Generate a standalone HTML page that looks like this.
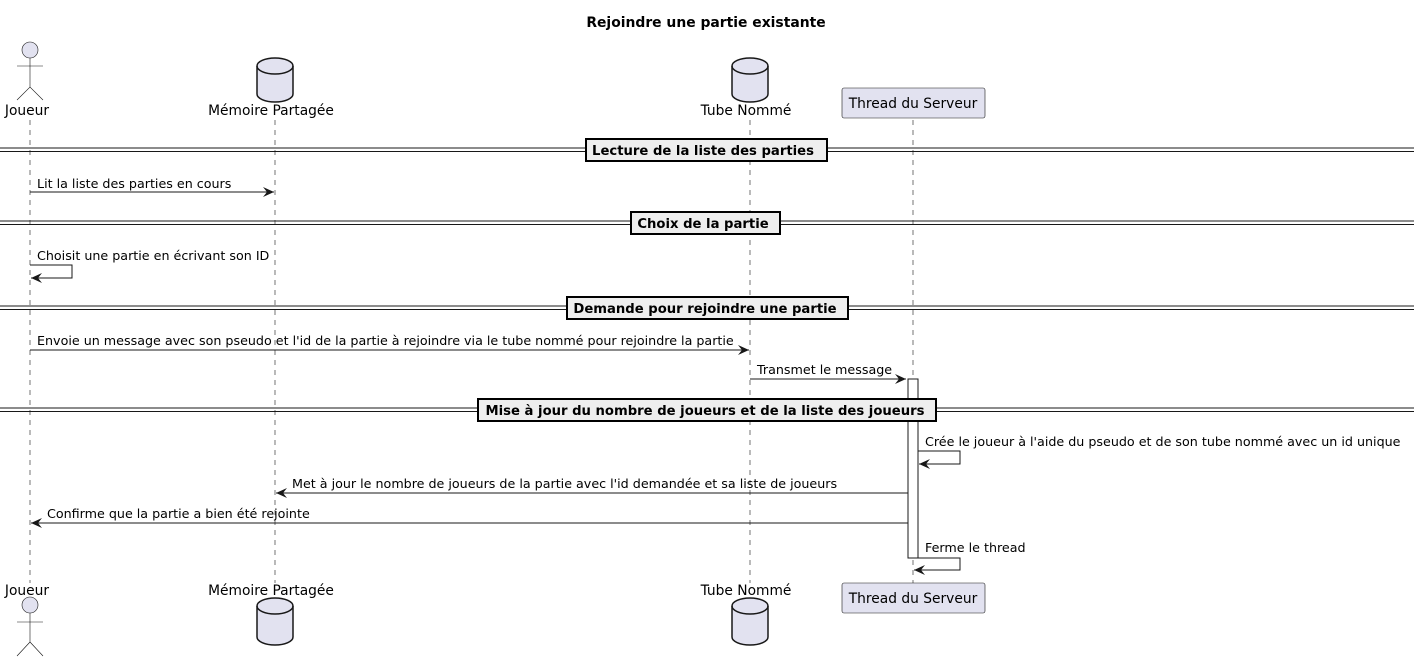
<!DOCTYPE html>
<html><head><meta charset="utf-8"><style>
html,body{margin:0;padding:0;background:#fff;}
svg text{font-family:"DejaVu Sans","Liberation Sans",sans-serif;font-size:12.7px;fill:#000;}
.t{font-size:13.8px;}
.b{font-weight:bold;font-size:13.2px;}
</style></head><body>
<svg width="1419" height="662" xmlns="http://www.w3.org/2000/svg">
<defs>
<marker id="a" viewBox="0 0 12 10" refX="11" refY="5" markerWidth="12" markerHeight="10" markerUnits="userSpaceOnUse" orient="auto"><path d="M0,0 L11,5 L0,10 L4,5 Z" fill="#181818"/></marker>
</defs>
<text x="706" y="27" text-anchor="middle" style="font-weight:bold;font-size:13.9px">Rejoindre une partie existante</text>
<g stroke="#181818" stroke-width="0.6" stroke-dasharray="5,5">
<line x1="30" y1="120" x2="30" y2="583"/>
<line x1="275" y1="120" x2="275" y2="583"/>
<line x1="750" y1="120" x2="750" y2="583"/>
<line x1="913" y1="120" x2="913" y2="583"/>
</g>
<g fill="#E2E2F0" stroke="#181818" stroke-width="0.6">
<circle cx="30" cy="50" r="8"/>
<path d="M30,58 V87 M17,66 H43 M17,100 L30,87 L43,100" fill="none"/>
<circle cx="30" cy="605" r="8"/>
<path d="M30,613 V642 M17,622 H43 M17,656 L30,642 L43,656" fill="none"/>
</g>
<g fill="#E2E2F0" stroke="#181818" stroke-width="1.5">
<path d="M257,66 A18,8 0 0 1 293,66 V94 A18,8 0 0 1 257,94 Z"/>
<path d="M257,66 A18,8 0 0 0 293,66" fill="none"/>
<path d="M732,66 A18,8 0 0 1 768,66 V94 A18,8 0 0 1 732,94 Z"/>
<path d="M732,66 A18,8 0 0 0 768,66" fill="none"/>
<path d="M257,606 A18,8 0 0 1 293,606 V637 A18,8 0 0 1 257,637 Z"/>
<path d="M257,606 A18,8 0 0 0 293,606" fill="none"/>
<path d="M732,606 A18,8 0 0 1 768,606 V637 A18,8 0 0 1 732,637 Z"/>
<path d="M732,606 A18,8 0 0 0 768,606" fill="none"/>
</g>
<g fill="#E2E2F0" stroke="#181818" stroke-width="0.6">
<rect x="842" y="88" width="143" height="30" rx="2"/>
<rect x="842" y="583" width="143" height="30" rx="2"/>
</g>
<text x="27" y="115" text-anchor="middle" class="t">Joueur</text>
<text x="271" y="115" text-anchor="middle" class="t">Mémoire Partagée</text>
<text x="746" y="115" text-anchor="middle" class="t">Tube Nommé</text>
<text x="913" y="108" text-anchor="middle" class="t">Thread du Serveur</text>
<text x="27" y="595" text-anchor="middle" class="t">Joueur</text>
<text x="271" y="595" text-anchor="middle" class="t">Mémoire Partagée</text>
<text x="746" y="595" text-anchor="middle" class="t">Tube Nommé</text>
<text x="913" y="603" text-anchor="middle" class="t">Thread du Serveur</text>
<rect x="908" y="379" width="10" height="179" fill="#fff" stroke="#181818" stroke-width="1"/>
<g stroke="#181818" stroke-width="1">
<line x1="0" y1="148" x2="1414" y2="148"/><line x1="0" y1="151.5" x2="1414" y2="151.5"/>
<line x1="0" y1="221" x2="1414" y2="221"/><line x1="0" y1="224.5" x2="1414" y2="224.5"/>
<line x1="0" y1="306" x2="1414" y2="306"/><line x1="0" y1="309.5" x2="1414" y2="309.5"/>
<line x1="0" y1="408" x2="1414" y2="408"/><line x1="0" y1="411.5" x2="1414" y2="411.5"/>
</g>
<g fill="#EEEEEE" stroke="#000" stroke-width="2">
<rect x="586" y="139" width="241" height="22"/>
<rect x="631" y="212" width="149" height="22"/>
<rect x="567" y="297" width="281" height="22"/>
<rect x="478" y="399" width="458" height="22"/>
</g>
<text x="703" y="155" text-anchor="middle" class="b">Lecture de la liste des parties</text>
<text x="703" y="228" text-anchor="middle" class="b">Choix de la partie</text>
<text x="705" y="313" text-anchor="middle" class="b">Demande pour rejoindre une partie</text>
<text x="705" y="415" text-anchor="middle" class="b">Mise à jour du nombre de joueurs et de la liste des joueurs</text>
<g stroke="#181818" stroke-width="1" fill="none" marker-end="url(#a)">
<line x1="30" y1="192" x2="274" y2="192"/>
<path d="M30,265 H72 V278 H31"/>
<line x1="30" y1="350" x2="749" y2="350"/>
<line x1="750" y1="379" x2="906" y2="379"/>
<path d="M918,451 H960 V464 H919"/>
<line x1="908" y1="493" x2="276" y2="493"/>
<line x1="908" y1="523" x2="31" y2="523"/>
<path d="M918,558 H960 V570 H914"/>
</g>
<text x="37" y="188">Lit la liste des parties en cours</text>
<text x="37" y="260">Choisit une partie en écrivant son ID</text>
<text x="37" y="345">Envoie un message avec son pseudo et l'id de la partie à rejoindre via le tube nommé pour rejoindre la partie</text>
<text x="757" y="374">Transmet le message</text>
<text x="925" y="446">Crée le joueur à l'aide du pseudo et de son tube nommé avec un id unique</text>
<text x="292" y="488">Met à jour le nombre de joueurs de la partie avec l'id demandée et sa liste de joueurs</text>
<text x="47" y="518">Confirme que la partie a bien été rejointe</text>
<text x="925" y="552">Ferme le thread</text>
</svg>
</body></html>
